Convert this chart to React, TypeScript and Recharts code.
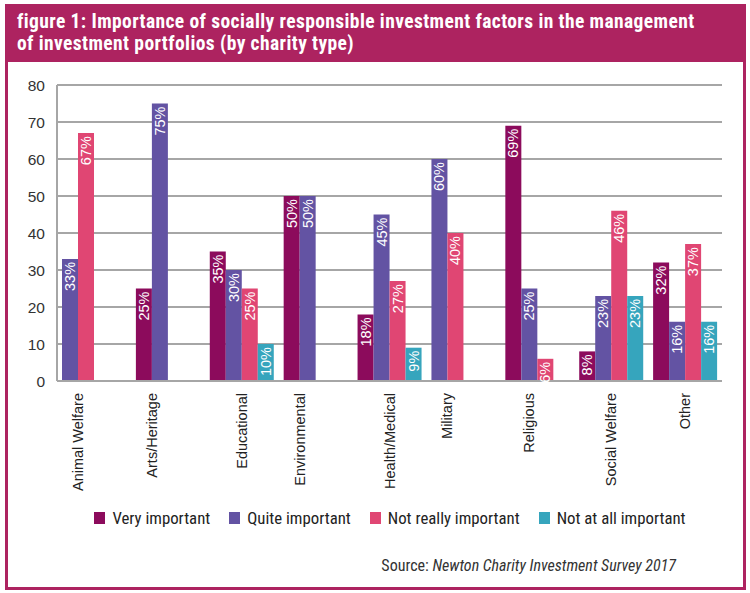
import React from "react";
import {
  BarChart,
  Bar,
  Cell,
  LabelList,
  XAxis,
  YAxis,
  CartesianGrid
} from 'recharts';

const categories = [
  'Animal Welfare',
  'Arts/Heritage',
  'Educational',
  'Environmental',
  'Health/Medical',
  'Military',
  'Religious',
  'Social Welfare',
  'Other',
];

const veryImportant = [null, 25, 35, 50, 18, null, 69, 8, 32];
const quiteImportant = [33, 75, 30, 50, 45, 60, 25, 23, 16];
const notReallyImportant = [67, null, 25, null, 27, 40, 6, 46, 37];
const notAtAllImportant = [null, null, 10, null, 9, null, null, 23, 16];

const seriesNames = ['Very important', 'Quite important', 'Not really important', 'Not at all important'];
const seriesColors = ['#8c0b5c', '#6353a3', '#e04673', '#36a5bd'];

const yTicks = [0, 10, 20, 30, 40, 50, 60, 70, 80];

const BRAND = '#ad2360';
const GRID = '#a6a6a6';
const CAT_GAP = 5;
const SLOTS = 4;

const sans = "'Liberation Sans', Arial, sans-serif";
const narrow = "'Roboto Condensed', 'Liberation Sans', sans-serif";

// the original packs the bars of a category to the left, skipping empty answers
const seriesValues = [veryImportant, quiteImportant, notReallyImportant, notAtAllImportant];
const rows = categories.map((name, i) => {
  const row: any = { name };
  let slot = 0;
  seriesValues.forEach((vals, s) => {
    const v = vals[i];
    if (v != null) {
      row['s' + slot] = v;
      row['c' + slot] = seriesColors[s];
      slot++;
    }
  });
  row.count = slot;
  return row;
});

const valueLabel = (props: any) => {
  const { x, y, width, value } = props;
  if (value == null) return null;
  const cx = Number(x) + Number(width) / 2;
  const ty = Number(y) + 3;
  return (
    <text x={cx} y={ty} transform={`rotate(-90 ${cx} ${ty})`}
          textAnchor="end" dominantBaseline="central"
          fill="#fff" fontSize={14.5} style={{ fontFamily: sans }}>
      {value}%
    </text>
  );
};

const CategoryTick = (props: any) => {
  const { x, y, payload } = props;
  const i = categories.indexOf(payload.value);
  const n = i >= 0 ? rows[i].count : SLOTS;
  const half = payload.offset || 37;
  const barW = (half * 2 - CAT_GAP * 2) / SLOTS;
  const tx = x - (SLOTS - n) * barW / 2;
  const ty = y + 12;
  return (
    <text x={tx} y={ty} transform={`rotate(-90 ${tx} ${ty})`}
          textAnchor="end" dominantBaseline="central"
          fill="#222" fontSize={14.5} style={{ fontFamily: sans }}>
      {payload.value}
    </text>
  );
};

const App = () => {
  return (
    <div style={{ position: 'absolute', left: 0, top: 0, width: 750, height: 593, background: '#fff' }}>
      <div style={{
        position: 'absolute', left: 5, top: 4, width: 741, height: 586,
        border: `3px solid ${BRAND}`, boxSizing: 'border-box'
      }} />
      <div style={{
        position: 'absolute', left: 5, top: 4, width: 741, height: 58,
        background: BRAND, color: '#fff', fontFamily: narrow, fontWeight: 'bold',
        fontSize: 19.5, lineHeight: '22px', letterSpacing: 0.4,
        padding: '7px 0 0 12px', boxSizing: 'border-box', whiteSpace: 'nowrap'
      }}>
        figure 1: Importance of socially responsible investment factors in the management<br />
        of investment portfolios (by charity type)
      </div>

      <div style={{ position: 'absolute', left: 0, top: 0 }}>
        <BarChart width={750} height={593} data={rows}
                  margin={{ top: 85, right: 28, bottom: 92, left: 7 }}
                  barGap={0} barCategoryGap={CAT_GAP}>
          <CartesianGrid vertical={false} stroke={GRID} strokeWidth={2} />
          <XAxis dataKey="name" height={120} interval={0}
                 axisLine={{ stroke: GRID, strokeWidth: 2 }}
                 tickLine={false} tickSize={0} tickMargin={0}
                 tick={<CategoryTick />} />
          <YAxis type="number" domain={[0, 80]} ticks={yTicks} width={50}
                 axisLine={{ stroke: GRID, strokeWidth: 2 }}
                 tickLine={false} tickSize={0} tickMargin={12}
                 tick={{ fill: '#333', fontSize: 15.5, style: { fontFamily: sans } }} />
          {[0, 1, 2, 3].map(k => (
            <Bar key={k} dataKey={'s' + k} isAnimationActive={false}>
              {rows.map((r, i) => (
                <Cell key={i} fill={r['c' + k] || 'none'} />
              ))}
              <LabelList dataKey={'s' + k} content={valueLabel} />
            </Bar>
          ))}
        </BarChart>
      </div>

      <div style={{
        position: 'absolute', left: 0, top: 508, width: 780, display: 'flex',
        justifyContent: 'center', gap: 19, fontFamily: narrow, fontSize: 16.8, color: '#222'
      }}>
        {seriesNames.map((s, i) => (
          <div key={s} style={{ display: 'flex', alignItems: 'center' }}>
            <span style={{ display: 'inline-block', width: 11, height: 12, background: seriesColors[i], marginRight: 7 }} />
            {s}
          </div>
        ))}
      </div>

      <div style={{
        position: 'absolute', right: 74, top: 556, fontFamily: narrow, fontSize: 16, color: '#333'
      }}>
        Source: <i>Newton Charity Investment Survey 2017</i>
      </div>
    </div>
  );
};

export default App;
